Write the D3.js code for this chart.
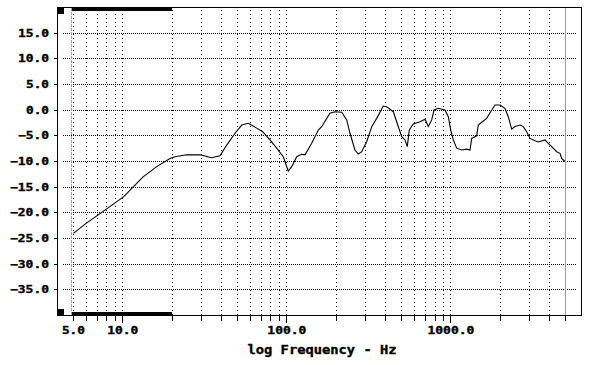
<!DOCTYPE html>
<html>
<head>
<meta charset="utf-8">
<script src="https://cdn.jsdelivr.net/npm/d3@7"></script>
<style>
  body { margin: 0; background: #fff; }
  svg { display: block; }
  .lbl { font-family: "DejaVu Sans Mono", monospace; font-weight: bold; fill: #000; stroke: #000; stroke-width: 0.35px; }
</style>
</head>
<body>
<svg id="chart" width="589" height="365"></svg>
<script>
// response curve (Hz, dB)
var freqs = [5, 6.0, 7.3, 10.1, 13.3, 16.1, 19.4, 20.8, 24.5, 29.6, 34.8, 39.1, 43, 48.3, 53.1, 58.2,
  65.5, 71.2, 78.9, 86.7, 95.1, 102, 107, 114.8, 123, 129, 141.7, 155.5, 163, 183, 196.5, 216, 231.6,
  242.6, 260, 272.6, 285.9, 306.6, 329, 352.9, 387, 406, 445.5, 467, 501, 525, 542, 557.6, 589.7, 648,
  695, 728, 763.6, 789, 837.5, 920, 964, 997, 1034, 1084, 1163, 1248, 1307, 1338, 1435, 1468, 1540,
  1652, 1772, 1857, 1991, 2135, 2237, 2346, 2457, 2635, 2761, 2896, 3032, 3253, 3407, 3745, 3921,
  4113, 4411, 4620, 4732, 4956];
var levels = [-24.0, -22.0, -20.1, -16.9, -13.0, -11.0, -9.4, -9.07, -8.7, -8.7, -9.26, -8.9, -6.8, -4.5, -2.9, -2.56,
  -3.5, -4.2, -5.8, -7.4, -9.07, -11.85, -11.0, -9.07, -8.6, -8.7, -6.46, -3.87, -3.22, -0.6, -0.3, -0.42, -1.9,
  -4.5, -7.76, -8.54, -8.1, -6.14, -3.22, -1.6, 0.81, 0.67, -0.3, -2.25, -5.17, -5.8, -7.1, -3.87, -2.7, -2.25,
  -1.78, -3.2, -1.9, 0.03, 0.36, 0.03, -1.27, -3.87, -5.8, -7.4, -7.76, -7.6, -7.76, -5.5, -5.0, -2.9, -2.36,
  -1.59, 0.03, 1.0, 1.0, 0.36, -1.27, -3.7, -3.2, -2.9, -3.2, -4.2, -5.5, -5.95, -6.2, -5.8, -6.46,
  -7.1, -8.1, -8.4, -9.4, -10.0];

var gridFreqs = [5, 6, 7, 8, 9, 10, 20, 30, 40, 50, 60, 70, 80, 90, 100, 200, 300, 400, 500, 600, 700, 800, 900,
  1000, 2000, 3000, 4000, 5000];
var majorFreqs = [10, 100, 1000];
var xLabels = [5, 10, 100, 1000];
var yTicks = [15, 10, 5, 0, -5, -10, -15, -20, -25, -30, -35];
var markerLeft = 4.9, markerRight = 5000;   // grey limit lines
var bandFreqs = [5, 20];                     // black band along top and bottom

var svg = d3.select("#chart");

var x = d3.scaleLog().domain([4, 6250]).range([57.5, 581.5]);
var y = d3.scaleLinear().domain([-40, 20]).range([315.5, 7.5]);

// note: "top" is taken by window.top, so plot* names
var plotTop = y.range()[1], plotBottom = y.range()[0];
var plotLeft = x.range()[0], plotRight = x.range()[1];
var px = function(v) { return Math.round(v - 0.5) + 0.5; };

// vertical grid
svg.append("g").selectAll("line").data(gridFreqs).enter().append("line")
  .attr("x1", function(d) { return px(x(d)); })
  .attr("x2", function(d) { return px(x(d)); })
  .attr("y1", plotTop + 2).attr("y2", plotBottom)
  .attr("stroke", "#000").attr("stroke-dasharray", "1,3")
  .attr("shape-rendering", "crispEdges");

// horizontal grid
svg.append("g").selectAll("line").data(yTicks).enter().append("line")
  .attr("x1", plotLeft + 5).attr("x2", plotRight - 5)
  .attr("y1", function(d) { return px(y(d)); })
  .attr("y2", function(d) { return px(y(d)); })
  .attr("stroke", "#000").attr("stroke-dasharray", "1,1")
  .attr("shape-rendering", "crispEdges");

// grey limit lines
svg.append("line")
  .attr("x1", px(x(markerLeft))).attr("x2", px(x(markerLeft)))
  .attr("y1", plotTop).attr("y2", plotBottom)
  .attr("stroke", "#a0a0a0").attr("stroke-dasharray", "3,1")
  .attr("shape-rendering", "crispEdges");
svg.append("line")
  .attr("x1", px(x(markerRight))).attr("x2", px(x(markerRight)))
  .attr("y1", plotTop).attr("y2", plotBottom)
  .attr("stroke", "#a0a0a0")
  .attr("shape-rendering", "crispEdges");

// black bands and corner squares
[plotTop - 0.5, plotBottom + 0.5 - 4].forEach(function(yy) {
  svg.append("rect")
    .attr("x", x(bandFreqs[0]) - 1).attr("y", yy)
    .attr("width", x(bandFreqs[1]) - x(bandFreqs[0]) + 1).attr("height", 4)
    .attr("fill", "#000").attr("shape-rendering", "crispEdges");
});
svg.append("rect").attr("x", plotLeft - 0.5).attr("y", plotTop - 0.5).attr("width", 7).attr("height", 7)
  .attr("fill", "#000").attr("shape-rendering", "crispEdges");
svg.append("rect").attr("x", plotLeft - 0.5).attr("y", plotBottom + 0.5 - 7).attr("width", 7).attr("height", 7)
  .attr("fill", "#000").attr("shape-rendering", "crispEdges");

// frame
svg.append("rect")
  .attr("x", plotLeft).attr("y", plotTop)
  .attr("width", plotRight - plotLeft).attr("height", plotBottom - plotTop)
  .attr("fill", "none").attr("stroke", "#000")
  .attr("shape-rendering", "crispEdges");

// x ticks
svg.append("g").selectAll("line").data(gridFreqs).enter().append("line")
  .attr("x1", function(d) { return px(x(d)); })
  .attr("x2", function(d) { return px(x(d)); })
  .attr("y1", plotBottom)
  .attr("y2", function(d) { return plotBottom + (majorFreqs.indexOf(d) >= 0 ? 7 : 5); })
  .attr("stroke", "#000").attr("shape-rendering", "crispEdges");

// y ticks
svg.append("g").selectAll("line").data(yTicks).enter().append("line")
  .attr("x1", plotLeft - 4).attr("x2", plotLeft)
  .attr("y1", function(d) { return px(y(d)); })
  .attr("y2", function(d) { return px(y(d)); })
  .attr("stroke", "#000").attr("shape-rendering", "crispEdges");

var fmt = d3.format(".1f");

// y labels
svg.append("g").selectAll("text").data(yTicks).enter().append("text")
  .attr("class", "lbl")
  .attr("x", 49)
  .attr("y", function(d) { return y(d) + 3.5; })
  .attr("text-anchor", "end")
  .attr("font-size", 10)
  .attr("textLength", function(d) { return fmt(d).length * 8 - 1; })
  .attr("lengthAdjust", "spacingAndGlyphs")
  .text(function(d) { return fmt(d); });

// x labels
svg.append("g").selectAll("text").data(xLabels).enter().append("text")
  .attr("class", "lbl")
  .attr("x", function(d) { return x(d); })
  .attr("y", 334)
  .attr("text-anchor", "middle")
  .attr("font-size", 10)
  .attr("textLength", function(d) { return fmt(d).length * 8 - 1; })
  .attr("lengthAdjust", "spacingAndGlyphs")
  .text(function(d) { return fmt(d); });

// axis title
svg.append("text")
  .attr("class", "lbl")
  .attr("x", 322).attr("y", 354)
  .attr("text-anchor", "middle")
  .attr("font-size", 12)
  .attr("textLength", 149)
  .attr("lengthAdjust", "spacingAndGlyphs")
  .text("log Frequency - Hz");

// response curve
var line = d3.line()
  .x(function(d, i) { return x(freqs[i]); })
  .y(function(d) { return y(d); });

svg.append("path")
  .datum(levels)
  .attr("d", line)
  .attr("fill", "none")
  .attr("stroke", "#000")
  .attr("stroke-width", 1.1);
</script>
</body>
</html>
